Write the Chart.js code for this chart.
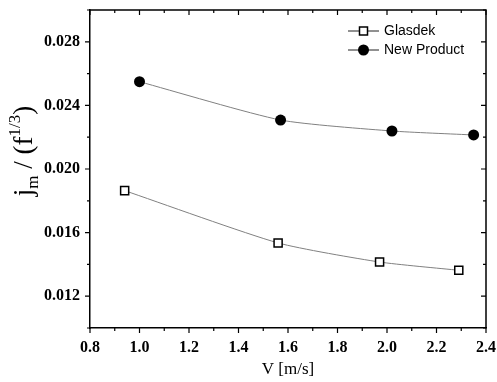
<!DOCTYPE html>
<html>
<head>
<meta charset="utf-8">
<script src="https://cdn.jsdelivr.net/npm/chart.js@4/dist/chart.umd.min.js"></script>
<style>
  html, body { margin: 0; padding: 0; background: #fff; }
  #wrap { width: 497px; height: 382px; }
</style>
</head>
<body>
<div id="wrap"><canvas id="chart" width="497" height="382"></canvas></div>
<script>
// values
const glasdekV = [0.94, 1.56, 1.97, 2.29];
const glasdekJ = [0.01864, 0.01535, 0.01415, 0.01363];
const newProductV = [1.0, 1.57, 2.02, 2.35];
const newProductJ = [0.02549, 0.02308, 0.02239, 0.02214];
const seriesNames = ["Glasdek", "New Product"];

const serif = "'Liberation Serif', 'Times New Roman', serif";
const sans = "'Liberation Sans', Arial, sans-serif";

const toPoints = (xs, ys) => xs.map((x, i) => ({ x: x, y: ys[i] }));

const isMajorX = (v) => Math.round(v * 10) % 2 === 0;
const isMajorY = (v) => Math.round(v * 1000) % 4 === 0;

// drop the label overflow padding so the layout padding alone sets the plot box
const noPad = (s) => {
  s.paddingTop = 0;
  s.paddingBottom = 0;
  s.paddingLeft = 0;
  s.paddingRight = 0;
};

// frame, inward/outward ticks, y title and legend
const decorations = {
  id: "decorations",
  afterDraw(chart) {
    const { ctx, chartArea: a, scales } = chart;
    const xs = scales.x, ys = scales.y;
    ctx.save();
    ctx.strokeStyle = "#000";
    ctx.lineWidth = 1.5;
    ctx.beginPath();
    ctx.moveTo(a.left, a.top);
    ctx.lineTo(a.right, a.top);
    ctx.lineTo(a.right, a.bottom);
    ctx.stroke();

    ctx.lineWidth = 1.2;
    ctx.beginPath();
    xs.ticks.forEach((t) => {
      const px = xs.getPixelForValue(t.value);
      const len = isMajorX(t.value) ? 5 : 3;
      ctx.moveTo(px, a.bottom);
      ctx.lineTo(px, a.bottom + len);
      ctx.moveTo(px, a.top);
      ctx.lineTo(px, a.top + len);
    });
    ys.ticks.forEach((t) => {
      const py = ys.getPixelForValue(t.value);
      const len = isMajorY(t.value) ? 5 : 3;
      ctx.moveTo(a.left, py);
      ctx.lineTo(a.left - len, py);
      ctx.moveTo(a.right, py);
      ctx.lineTo(a.right - len, py);
    });
    ctx.stroke();

    // y axis title: j_m / (f^1/3)
    const parts = [
      { t: "j", size: 27, dy: 0 },
      { t: "m", size: 17, dy: 6 },
      { t: " / (f", size: 27, dy: 0 },
      { t: "1/3", size: 17, dy: -12 },
      { t: ")", size: 27, dy: 0 }
    ];
    let total = 0;
    parts.forEach((p) => {
      ctx.font = p.size + "px " + serif;
      p.w = ctx.measureText(p.t).width;
      total += p.w;
    });
    ctx.translate(32, 151);
    ctx.rotate(-Math.PI / 2);
    ctx.fillStyle = "#000";
    ctx.textBaseline = "alphabetic";
    let cx = -total / 2;
    parts.forEach((p) => {
      ctx.font = p.size + "px " + serif;
      ctx.fillText(p.t, cx, p.dy);
      cx += p.w;
    });
    ctx.restore();

    // legend
    ctx.save();
    ctx.font = "14px " + sans;
    ctx.textBaseline = "middle";
    chart.data.datasets.forEach((ds, i) => {
      const y = a.top + 21 + i * 19;
      const x0 = a.right - 138;
      ctx.strokeStyle = "#222";
      ctx.lineWidth = 1;
      ctx.beginPath();
      ctx.moveTo(x0, y);
      ctx.lineTo(x0 + 31, y);
      ctx.stroke();
      const mx = x0 + 15.5;
      ctx.lineWidth = 1.5;
      ctx.strokeStyle = "#000";
      if (ds.pointStyle === "rect") {
        ctx.fillStyle = "#fff";
        ctx.fillRect(mx - 4, y - 4, 8, 8);
        ctx.strokeRect(mx - 4, y - 4, 8, 8);
      } else {
        ctx.fillStyle = "#000";
        ctx.beginPath();
        ctx.arc(mx, y, 5.5, 0, Math.PI * 2);
        ctx.fill();
      }
      ctx.fillStyle = "#000";
      ctx.fillText(ds.label, x0 + 36, y);
    });
    ctx.restore();
  }
};

new Chart(document.getElementById("chart"), {
  type: "line",
  data: {
    datasets: [
      {
        label: seriesNames[0],
        data: toPoints(glasdekV, glasdekJ),
        borderColor: "#808080",
        borderWidth: 1,
        tension: 0.2,
        pointStyle: "rect",
        pointRadius: 5.7,
        pointBorderWidth: 1.5,
        pointBorderColor: "#000",
        pointBackgroundColor: "#fff"
      },
      {
        label: seriesNames[1],
        data: toPoints(newProductV, newProductJ),
        borderColor: "#808080",
        borderWidth: 1,
        tension: 0.2,
        pointStyle: "circle",
        pointRadius: 5.5,
        pointBorderWidth: 0,
        pointBackgroundColor: "#000"
      }
    ]
  },
  options: {
    responsive: false,
    animation: false,
    layout: { padding: { top: 10, right: 11, left: 0, bottom: 0 } },
    plugins: {
      legend: { display: false },
      tooltip: { enabled: false }
    },
    scales: {
      x: {
        type: "linear",
        min: 0.8,
        max: 2.4,
        grid: { display: false, drawTicks: false },
        border: { display: true, color: "#000", width: 1.5 },
        afterFit: (s) => { s.height = 54; noPad(s); },
        ticks: {
          stepSize: 0.1,
          autoSkip: false,
          maxRotation: 0,
          padding: 10,
          color: "#000",
          font: { family: serif, size: 16, weight: "bold" },
          callback: (v) => (isMajorX(v) ? v.toFixed(1) : "")
        },
        title: {
          display: true,
          text: "V [m/s]",
          color: "#000",
          font: { family: serif, size: 17 },
          padding: { top: 4, bottom: 2 }
        }
      },
      y: {
        min: 0.010,
        max: 0.030,
        grid: { display: false, drawTicks: false },
        border: { display: true, color: "#000", width: 1.5 },
        afterFit: (s) => { s.width = 90; noPad(s); },
        ticks: {
          stepSize: 0.002,
          autoSkip: false,
          padding: 10,
          color: "#000",
          font: { family: serif, size: 16, weight: "bold" },
          callback: (v) => (isMajorY(v) && v > 0.0105 && v < 0.0295 ? v.toFixed(3) : "")
        }
      }
    }
  },
  plugins: [decorations]
});
</script>
</body>
</html>
